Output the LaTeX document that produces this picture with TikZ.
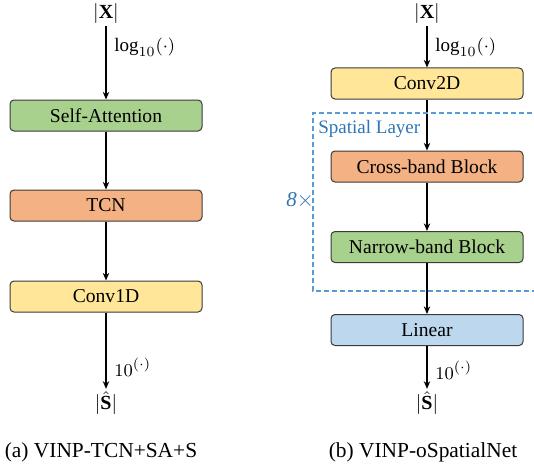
\documentclass[tikz,border=0pt]{standalone}
\usepackage{fontspec}
\setmainfont{Liberation Serif}
\usepackage{amsmath,amssymb}
\usetikzlibrary{arrows.meta,positioning}
\definecolor{blkgreen}{HTML}{A9D18E}
\definecolor{blkorange}{HTML}{F4B183}
\definecolor{blkyellow}{HTML}{FFE699}
\definecolor{blkblue}{HTML}{BDD7EE}
\definecolor{dashblue}{HTML}{5B9BD5}
\definecolor{textblue}{HTML}{2E75B6}
\definecolor{edgegray}{HTML}{3A3A3A}
\tikzset{
  block/.style={rounded corners=2pt,draw=edgegray,line width=0.5pt,minimum width=96pt,minimum height=15.5pt,inner sep=0pt,font=\fontsize{9.8}{11}\selectfont},
  io/.style={font=\fontsize{10}{12}\selectfont,inner sep=1pt},
  lbl/.style={font=\fontsize{9.5}{11}\selectfont,anchor=west,inner sep=0pt},
  subcap/.style={font=\fontsize{10.7}{12}\selectfont},
  arr/.style={-{Stealth[length=3.8pt,width=3.2pt,inset=1.2pt]},line width=0.75pt},
  layer/.style={dashblue,dashed,dash pattern=on 2.5pt off 1.5pt,line width=0.6pt}
}
\begin{document}
\begin{tikzpicture}[x=0.5pt,y=-0.5pt]
\path[use as bounding box] (0,0) rectangle (534,465);
% left network
\node[io] (xa) at (106,14) {$|\mathbf{X}|$};
\node[block,fill=blkgreen] (sa) at (106,115.5) {Self-Attention};
\node[block,fill=blkorange] (tcn) at (106,205.5) {TCN};
\node[block,fill=blkyellow] (c1d) at (106,296.5) {Conv1D};
\node[io] (sa_out) at (106,403) {$|\hat{\mathbf{S}}|$};
\draw[arr] (xa)--(sa); \draw[arr] (sa)--(tcn); \draw[arr] (tcn)--(c1d); \draw[arr] (c1d)--(sa_out);
\node[lbl] (loga) at (114,47) {$\log_{10}(\cdot)$};
\node[lbl] (powa) at (114,367) {$10^{(\cdot)}$};
\node[subcap] (capa) at (101,452) {(a)\ VINP-TCN+SA+S};
% right network
\node[io] (xb) at (427,14) {$|\mathbf{X}|$};
\node[block,fill=blkyellow] (c2d) at (427,83.5) {Conv2D};
\node[block,fill=blkorange] (cross) at (427,166.5) {Cross-band Block};
\node[block,fill=blkgreen] (narrow) at (427,247) {Narrow-band Block};
\node[block,fill=blkblue] (lin) at (427,330) {Linear};
\node[io] (sb_out) at (427,403) {$|\hat{\mathbf{S}}|$};
\draw[arr] (xb)--(c2d); \draw[arr] (c2d)--(cross); \draw[arr] (cross)--(narrow); \draw[arr] (narrow)--(lin); \draw[arr] (lin)--(sb_out);
\node[lbl] (logb) at (435,47) {$\log_{10}(\cdot)$};
\node[lbl] (powb) at (435,370) {$10^{(\cdot)}$};
\node[subcap] (capb) at (423,452) {(b)\ VINP-oSpatialNet};
% spatial layer
\draw[layer] (540,113)--(313,113)--(313,291)--(540,291);
\node[lbl,text=textblue] (sl) at (318,129) {Spatial Layer};
\node[lbl,text=textblue,font=\fontsize{10.5}{12}\selectfont] (rep) at (286,200) {\textit{8}$\times$};
\end{tikzpicture}
\end{document}
